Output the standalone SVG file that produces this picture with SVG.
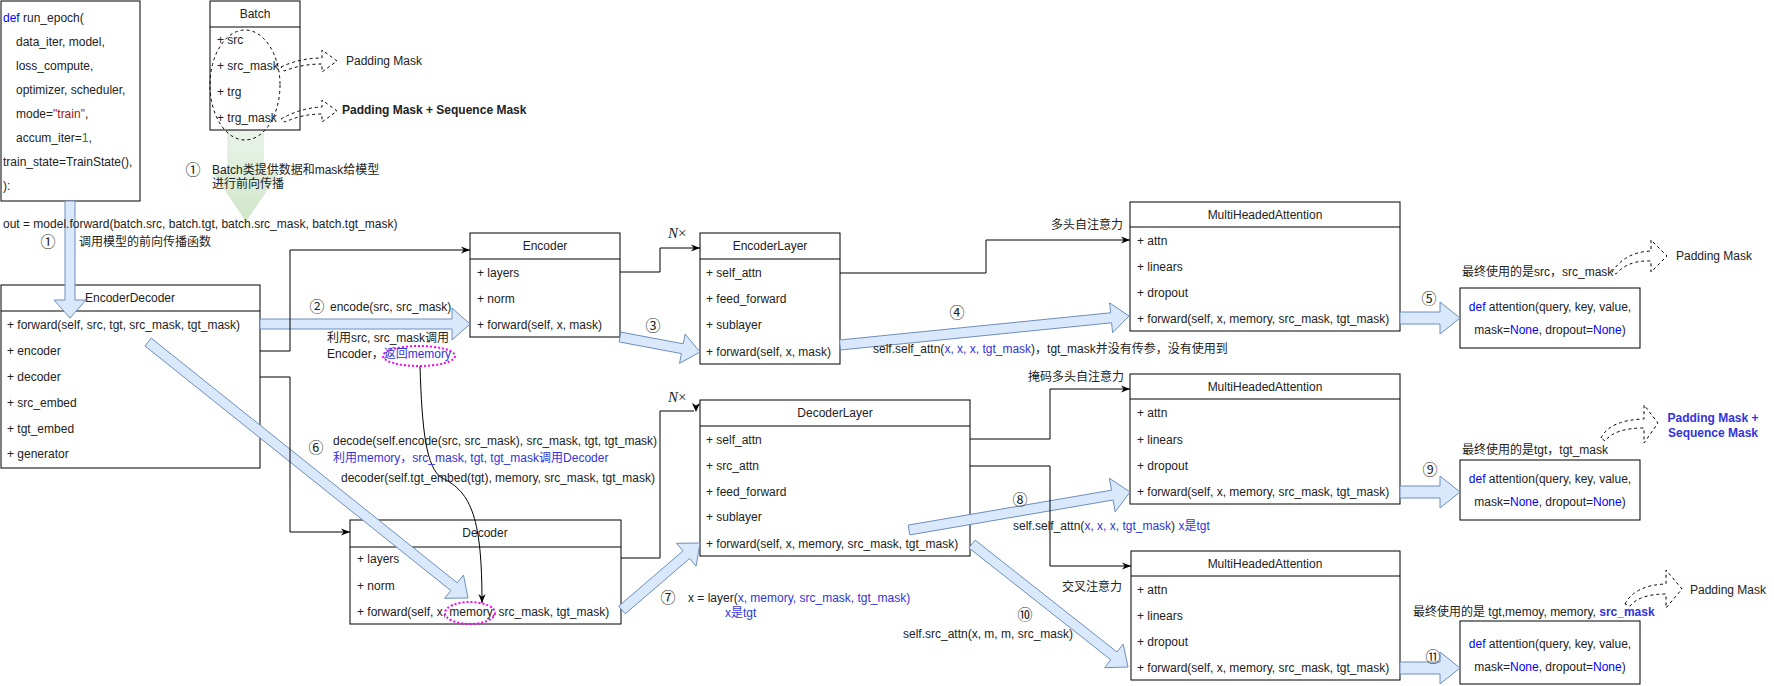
<svg xmlns="http://www.w3.org/2000/svg" width="1774" height="686" viewBox="0 0 1774 686">
<style>
text{font-family:"Liberation Sans","Noto Sans CJK SC",sans-serif;font-size:12px;fill:#222}
.c{text-anchor:middle}
.e{text-anchor:end}
.bl{fill:#3333dd}
.kw{fill:#0000ff}
.st{fill:#a31515}
.nm{fill:#098658}
.bd{font-weight:bold}
.n{font-family:"Noto Sans CJK SC","DejaVu Sans",sans-serif;font-size:15px;fill:#222}
.nx{font-family:"Liberation Serif",serif;font-size:15px;fill:#222}
.box{fill:#fff;stroke:#000;stroke-width:1}
.sep{stroke:#000;stroke-width:1}
.ln{fill:none;stroke:#000;stroke-width:1}
.fa{fill:#dae8fc;stroke:#6c8ebf;stroke-width:1}
.da{fill:none;stroke:#000;stroke-width:1;stroke-dasharray:3 3}
.pk{fill:none;stroke:#ff00ff;stroke-width:2;stroke-dasharray:2 2}
</style>
<defs>
<marker id="ah" viewBox="0 0 10 10" refX="10" refY="5" markerWidth="9" markerHeight="9" markerUnits="userSpaceOnUse" orient="auto"><path d="M0,1 L10,5 L0,9 L3,5 Z" fill="#000"/></marker>
<linearGradient id="gg" x1="0" y1="0" x2="0" y2="1"><stop offset="0" stop-color="#d5e8d4" stop-opacity="0.5"/><stop offset="1" stop-color="#c9e3c0" stop-opacity="0.9"/></linearGradient>
</defs>

<g id="green-arrow"><polygon points="228,130 263,130 263,172 279,172 246,221 213,172 228,172" fill="url(#gg)" stroke="#d5e8d4" stroke-width="1"/></g>

<g id="run_epoch">
<rect class="box" x="1" y="1" width="139" height="200"/>
<text x="3" y="22"><tspan class="kw">def</tspan> run_epoch(</text>
<text x="16" y="46">data_iter, model,</text>
<text x="16" y="70">loss_compute,</text>
<text x="16" y="94">optimizer, scheduler,</text>
<text x="16" y="118">mode=<tspan class="st">"train"</tspan>,</text>
<text x="16" y="142">accum_iter=<tspan class="nm">1</tspan>,</text>
<text x="3" y="166">train_state=TrainState(),</text>
<text x="3" y="190">):</text>
</g>

<g id="Batch">
<rect class="box" x="210" y="1" width="90" height="129" fill-opacity="0.6"/>
<line class="sep" x1="210" y1="27" x2="300" y2="27"/>
<text class="c" x="255" y="18">Batch</text>
<text x="217" y="44">+ src</text>
<text x="217" y="70">+ src_mask</text>
<text x="217" y="96">+ trg</text>
<text x="217" y="122">+ trg_mask</text>
</g>

<g id="EncoderDecoder">
<rect class="box" x="1" y="285" width="259" height="183"/>
<line class="sep" x1="1" y1="311" x2="260" y2="311"/>
<text class="c" x="130" y="302">EncoderDecoder</text>
<text x="7" y="329">+ forward(self, src, tgt, src_mask, tgt_mask)</text>
<text x="7" y="355">+ encoder</text>
<text x="7" y="381">+ decoder</text>
<text x="7" y="407">+ src_embed</text>
<text x="7" y="433">+ tgt_embed</text>
<text x="7" y="458">+ generator</text>
</g>

<g id="Encoder">
<rect class="box" x="470" y="233" width="150" height="104"/>
<line class="sep" x1="470" y1="259" x2="620" y2="259"/>
<text class="c" x="545" y="250">Encoder</text>
<text x="477" y="277">+ layers</text>
<text x="477" y="303">+ norm</text>
<text x="477" y="329">+ forward(self, x, mask)</text>
</g>

<g id="EncoderLayer">
<rect class="box" x="700" y="233" width="140" height="131"/>
<line class="sep" x1="700" y1="259" x2="840" y2="259"/>
<text class="c" x="770" y="250">EncoderLayer</text>
<text x="706" y="277">+ self_attn</text>
<text x="706" y="303">+ feed_forward</text>
<text x="706" y="329">+ sublayer</text>
<text x="706" y="356">+ forward(self, x, mask)</text>
</g>

<g id="MHA1">
<rect class="box" x="1130" y="202" width="270" height="129"/>
<line class="sep" x1="1130" y1="227" x2="1400" y2="227"/>
<text class="c" x="1265" y="219">MultiHeadedAttention</text>
<text x="1137" y="245">+ attn</text>
<text x="1137" y="271">+ linears</text>
<text x="1137" y="297">+ dropout</text>
<text x="1137" y="323">+ forward(self, x, memory, src_mask, tgt_mask)</text>
</g>

<g id="attention1">
<rect class="box" x="1460" y="288" width="180" height="60"/>
<text class="c" x="1550" y="311"><tspan class="kw">def</tspan> attention(query, key, value,</text>
<text class="c" x="1550" y="334">mask=<tspan class="kw">None</tspan>, dropout=<tspan class="kw">None</tspan>)</text>
</g>

<g id="DecoderLayer">
<rect class="box" x="700" y="400" width="270" height="156"/>
<line class="sep" x1="700" y1="426" x2="970" y2="426"/>
<text class="c" x="835" y="417">DecoderLayer</text>
<text x="706" y="444">+ self_attn</text>
<text x="706" y="470">+ src_attn</text>
<text x="706" y="496">+ feed_forward</text>
<text x="706" y="521">+ sublayer</text>
<text x="706" y="548">+ forward(self, x, memory, src_mask, tgt_mask)</text>
</g>

<g id="MHA2">
<rect class="box" x="1130" y="374" width="270" height="130"/>
<line class="sep" x1="1130" y1="399" x2="1400" y2="399"/>
<text class="c" x="1265" y="391">MultiHeadedAttention</text>
<text x="1137" y="417">+ attn</text>
<text x="1137" y="444">+ linears</text>
<text x="1137" y="470">+ dropout</text>
<text x="1137" y="496">+ forward(self, x, memory, src_mask, tgt_mask)</text>
</g>

<g id="attention2">
<rect class="box" x="1460" y="460" width="180" height="60"/>
<text class="c" x="1550" y="483"><tspan class="kw">def</tspan> attention(query, key, value,</text>
<text class="c" x="1550" y="506">mask=<tspan class="kw">None</tspan>, dropout=<tspan class="kw">None</tspan>)</text>
</g>

<g id="Decoder">
<rect class="box" x="350" y="520" width="271" height="104"/>
<line class="sep" x1="350" y1="547" x2="621" y2="547"/>
<text class="c" x="485" y="537">Decoder</text>
<text x="357" y="563">+ layers</text>
<text x="357" y="590">+ norm</text>
<text x="357" y="616">+ forward(self, x, memory, src_mask, tgt_mask)</text>
</g>

<g id="MHA3">
<rect class="box" x="1131" y="551" width="269" height="129"/>
<line class="sep" x1="1131" y1="576" x2="1400" y2="576"/>
<text class="c" x="1265" y="568">MultiHeadedAttention</text>
<text x="1137" y="594">+ attn</text>
<text x="1137" y="620">+ linears</text>
<text x="1137" y="646">+ dropout</text>
<text x="1137" y="672">+ forward(self, x, memory, src_mask, tgt_mask)</text>
</g>

<g id="attention3">
<rect class="box" x="1460" y="621" width="180" height="63"/>
<text class="c" x="1550" y="648"><tspan class="kw">def</tspan> attention(query, key, value,</text>
<text class="c" x="1550" y="671">mask=<tspan class="kw">None</tspan>, dropout=<tspan class="kw">None</tspan>)</text>
</g>

<g id="connectors">
<ellipse class="da" cx="245" cy="85" rx="35" ry="55"/>
<path class="da" d="M281,67 Q300,58 322,58 L322,50 L337,61 L322,72 L322,64 Q302,64 284,71 Z"/>
<path class="da" d="M281,119 Q300,108 322,107 L322,100 L337,111 L322,122 L322,114 Q302,114 285,122 Z"/>
<path class="da" d="M1612,272 Q1625,252 1651,251 L1651,240 L1667,256 L1651,272 L1651,261 Q1628,260 1616,274 Z"/>
<path class="da" d="M1601,438 Q1610,420 1644,419 L1644,405 L1658,423 L1644,443 L1644,428 Q1615,428 1605,441 Z"/>
<path class="da" d="M1625,604 Q1635,585 1666,584 L1666,570 L1682,589 L1666,608 L1666,594 Q1640,594 1630,606 Z"/>

<polygon class="fa" points="65,201 75,201 75,300 86,300 70,318 54,300 65,300"/>
<polygon class="fa" points="260,319 452,319 452,308 470,324 452,340 452,329 260,329"/>
<polygon class="fa" points="620.9,332.1 683.2,343.8 685.1,334 700,352 679.5,363.4 681.4,353.6 619.1,341.9"/>
<polygon class="fa" points="839.5,340 1110.6,312.8 1109.6,302.9 1129,316 1112.6,332.7 1111.6,322.8 840.5,350"/>
<polygon class="fa" points="1400,312 1440,312 1440,302 1460,318 1440,334 1440,324 1400,324"/>
<polygon class="fa" points="151.2,338.1 457.2,582.8 463.5,575 468,598 444.6,598.3 450.9,590.6 144.9,345.9"/>
<polygon class="fa" points="618.7,606.2 683,550.9 676.5,543.3 700,543 696.1,566.1 689.6,558.5 625.3,613.8"/>
<polygon class="fa" points="908.2,525.1 1111.5,490.2 1109.4,478.3 1130,492 1115.2,511.9 1113.1,500 909.8,534.9"/>
<polygon class="fa" points="1400,486 1440,486 1440,476 1460,492 1440,508 1440,498 1400,498"/>
<polygon class="fa" points="975.1,540.1 1117,652 1123.2,644.1 1128,667 1104.6,667.7 1110.8,659.8 968.9,547.9"/>
<polygon class="fa" points="1400,662 1440,662 1440,652 1460,668 1440,684 1440,674 1400,674"/>

<path class="ln" d="M260,351 H290 V250 H470" marker-end="url(#ah)"/>
<path class="ln" d="M260,377 H290 V532 H350" marker-end="url(#ah)"/>
<path class="ln" d="M620,272 H660 V248 H700" marker-end="url(#ah)"/>
<path class="ln" d="M840,273 H986 V240 H1130" marker-end="url(#ah)"/>
<path class="ln" d="M621,558 H660 V411 H694"/>
<path d="M692,403 L696,405.5 L700,403 L696,412 Z" fill="#000"/>
<path class="ln" d="M970,439 H1050 V389 H1130" marker-end="url(#ah)"/>
<path class="ln" d="M970,466 H1050 V566 H1131" marker-end="url(#ah)"/>
<path class="ln" d="M420,366 C422,430 426,468 442,478 C472,492 482,520 482,603" marker-end="url(#ah)"/>
<ellipse class="pk" cx="419" cy="356" rx="36" ry="10"/>
<ellipse class="pk" cx="470" cy="613" rx="25" ry="11"/>
</g>

<g id="labels">
<text x="346" y="65">Padding Mask</text>
<text class="bd" x="342" y="114">Padding Mask + Sequence Mask</text>
<text class="n c" x="193" y="175">①</text>
<text x="212" y="174">Batch类提供数据和mask给模型</text>
<text x="212" y="188">进行前向传播</text>
<text x="3" y="228">out = model.forward(batch.src, batch.tgt, batch.src_mask, batch.tgt_mask)</text>
<text class="n c" x="48" y="247">①</text>
<text x="79" y="246">调用模型的前向传播函数</text>
<text class="n c" x="317" y="312">②</text>
<text x="330" y="311">encode(src, src_mask)</text>
<text x="327" y="342">利用src, src_mask调用</text>
<text x="327" y="358">Encoder，<tspan class="bl">返回memory</tspan></text>
<text class="n c" x="653" y="331">③</text>
<text class="nx" x="668" y="238"><tspan font-style="italic">N</tspan>×</text>
<text class="nx" x="668" y="402"><tspan font-style="italic">N</tspan>×</text>
<text class="n c" x="957" y="318">④</text>
<text x="873" y="353">self.self_attn(<tspan class="bl">x, x, x, tgt_mask</tspan>)，tgt_mask并没有传参，没有使用到</text>
<text class="e" x="1123" y="229">多头自注意力</text>
<text class="n c" x="1429" y="304">⑤</text>
<text x="1462" y="276">最终使用的是src，src_mask</text>
<text x="1676" y="260">Padding Mask</text>
<text class="n c" x="316" y="453">⑥</text>
<text x="333" y="445">decode(self.encode(src, src_mask), src_mask, tgt, tgt_mask)</text>
<text class="bl" x="333" y="462">利用memory，src_mask, tgt, tgt_mask调用Decoder</text>
<text x="341" y="482">decoder(self.tgt_embed(tgt), memory, src_mask, tgt_mask)</text>
<text class="e" x="1124" y="381">掩码多头自注意力</text>
<text class="n c" x="668" y="603">⑦</text>
<text x="688" y="602">x = layer(<tspan class="bl">x, memory, src_mask, tgt_mask)</tspan></text>
<text class="bl" x="725" y="617">x是tgt</text>
<text class="n c" x="1020" y="505">⑧</text>
<text x="1013" y="530">self.self_attn(<tspan class="bl">x, x, x, tgt_mask</tspan>)  <tspan class="bl">x是tgt</tspan></text>
<text class="n c" x="1430" y="475">⑨</text>
<text x="1462" y="454">最终使用的是tgt，tgt_mask</text>
<text class="bl bd c" x="1713" y="422">Padding Mask +</text>
<text class="bl bd c" x="1713" y="437">Sequence Mask</text>
<text class="e" x="1122" y="591">交叉注意力</text>
<text class="n c" x="1025" y="620">⑩</text>
<text x="903" y="638">self.src_attn(x, m, m, src_mask)</text>
<text x="1413" y="616">最终使用的是 tgt,memoy, memory, <tspan class="bl bd">src_mask</tspan></text>
<text x="1690" y="594">Padding Mask</text>
<text class="n c" x="1433" y="662">⑪</text>
</g>
</svg>
